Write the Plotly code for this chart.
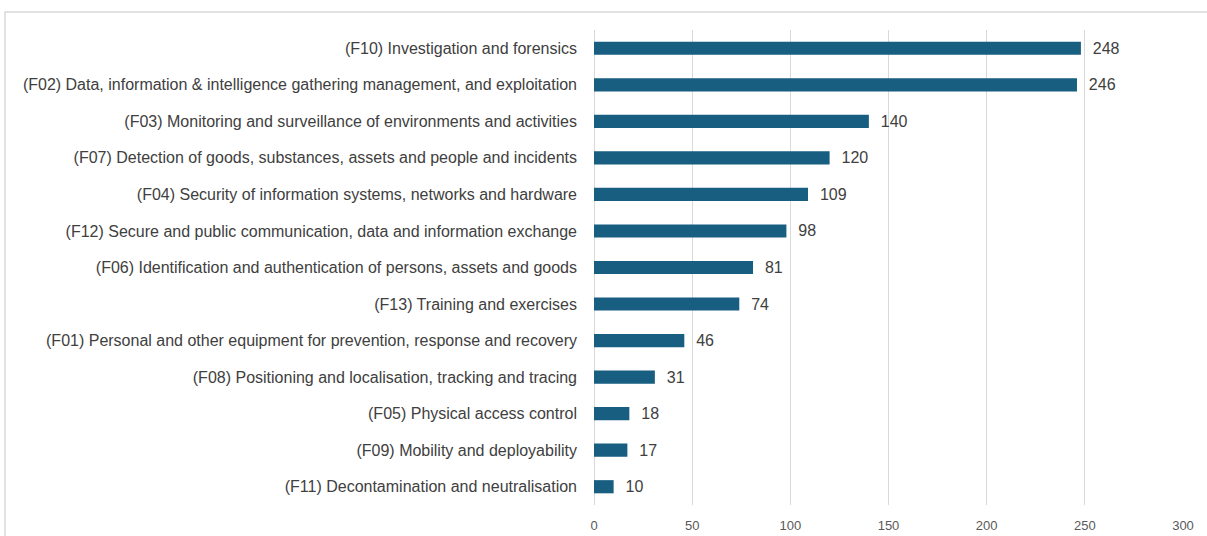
import plotly.graph_objects as go

# Capability areas, listed top to bottom
categories = [
    "(F10) Investigation and forensics",
    "(F02) Data, information & intelligence gathering management, and exploitation",
    "(F03) Monitoring and surveillance of environments and activities",
    "(F07) Detection of goods, substances, assets and people and incidents",
    "(F04) Security of information systems, networks and hardware",
    "(F12) Secure and public communication, data and information exchange",
    "(F06) Identification and authentication of persons, assets and goods",
    "(F13) Training and exercises",
    "(F01) Personal and other equipment for prevention, response and recovery",
    "(F08) Positioning and localisation, tracking and tracing",
    "(F05) Physical access control",
    "(F09) Mobility and deployability",
    "(F11) Decontamination and neutralisation",
]
counts = [248, 246, 140, 120, 109, 98, 81, 74, 46, 31, 18, 17, 10]
x_ticks = [0, 50, 100, 150, 200, 250, 300]

BAR_COLOR = "#175e80"
TEXT_COLOR = "#404040"
GRID_COLOR = "#d9d9d9"

fig = go.Figure(
    go.Bar(
        x=counts,
        y=categories,
        orientation="h",
        marker=dict(color=BAR_COLOR, line=dict(width=0)),
        text=counts,
        texttemplate="\u00a0\u00a0%{x}",
        textposition="outside",
        constraintext="none",
        cliponaxis=False,
        textfont=dict(family="Liberation Sans, Arial, sans-serif", size=16, color=TEXT_COLOR),
        hoverinfo="x+y",
    )
)

fig.update_layout(
    width=1207,
    height=536,
    margin=dict(l=594, r=24, t=30, b=31, autoexpand=False),
    paper_bgcolor="white",
    plot_bgcolor="white",
    bargap=0.64,
    showlegend=False,
    font=dict(family="Liberation Sans, Arial, sans-serif", color=TEXT_COLOR),
    xaxis=dict(
        range=[0, 300],
        tickvals=x_ticks,
        automargin=False,
        showgrid=True,
        gridcolor=GRID_COLOR,
        gridwidth=1,
        zeroline=True,
        zerolinecolor=GRID_COLOR,
        zerolinewidth=1,
        showline=False,
        ticks="",
        ticklabelstandoff=11,
        tickfont=dict(family="Liberation Sans, sans-serif", size=13, color="#595959"),
    ),
    yaxis=dict(
        autorange="reversed",
        automargin=False,
        showgrid=False,
        showline=False,
        ticks="",
        ticklabelstandoff=16,
        tickfont=dict(family="Liberation Sans, sans-serif", size=16, color=TEXT_COLOR),
    ),
    shapes=[
        dict(
            type="rect",
            xref="paper",
            yref="paper",
            x0=(5 - 594) / 589,
            x1=(1215 - 594) / 589,
            y0=(505 - 545) / 475,
            y1=(505 - 12) / 475,
            line=dict(color=GRID_COLOR, width=1.5),
            fillcolor="rgba(0,0,0,0)",
            layer="below",
        )
    ],
)

fig.write_html("out.html")
